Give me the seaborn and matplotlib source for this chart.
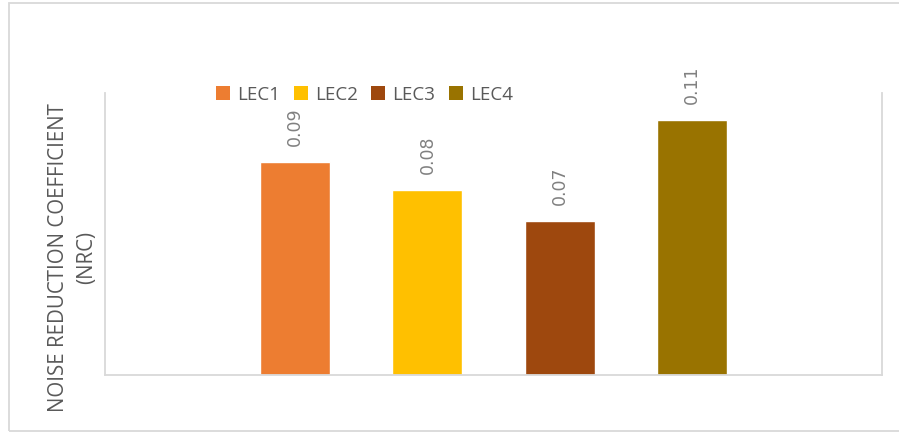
import matplotlib
matplotlib.use("Agg")
import matplotlib.pyplot as plt
from matplotlib.patches import Rectangle, Patch
import seaborn as sns
import pandas as pd

categories = ["LEC1", "LEC2", "LEC3", "LEC4"]
nrc_values = [0.0906, 0.0787, 0.0656, 0.1085]
value_labels = ["0.09", "0.08", "0.07", "0.11"]
colors = ["#ED7D31", "#FFC000", "#9E480E", "#997300"]
ylabel_text = "NOISE REDUCTION COEFFICIENT\n(NRC)"

sns.set_theme(style="white")
plt.rcParams["font.family"] = ["Open Sans", "DejaVu Sans"]

df = pd.DataFrame({"Sample": categories, "NRC": nrc_values})

fig = plt.figure(figsize=(8.99, 4.32), dpi=100)
ax = fig.add_axes([105/899, 1-375/432, (882-105)/899, (375-93)/432])

sns.barplot(data=df, x="Sample", y="NRC", hue="Sample", palette=colors,
            width=70/132, legend=False, ax=ax, saturation=1)

ax.set_xlim(-190/132, 3 + 190/132)
ax.set_ylim(0, 0.12)
ax.set_xticks([])
ax.set_yticks([])
ax.set_xlabel("")
ax.set_ylabel("")
for s in ["left", "right", "bottom"]:
    ax.spines[s].set_visible(True)
    ax.spines[s].set_color("#d9d9d9")
    ax.spines[s].set_linewidth(1.3)
ax.spines["top"].set_visible(False)

for i, (v, lab) in enumerate(zip(nrc_values, value_labels)):
    ax.annotate(lab, xy=(i, v), xytext=(0, 11.5), textcoords="offset points",
                rotation=90, ha="center", va="bottom", color="#808080",
                fontsize=12.5, family=["DejaVu Sans"])

handles = [Patch(facecolor=c, edgecolor="none") for c in colors]
fig.legend(handles, categories, loc="center", bbox_to_anchor=(364.5/899, 1-94.5/432),
           ncol=4, frameon=False, fontsize=13.5, handlelength=0.75, handleheight=0.75,
           handletextpad=0.4, columnspacing=0.7, labelcolor="#595959", borderpad=0)

fig.text(73/899, 1-258/432, ylabel_text, rotation=90, ha="center", va="center",
         multialignment="center", fontsize=14.8, color="#595959", linespacing=1.45)

fig.patches.append(Rectangle((9/899, 1-431/432), 1.0, 428/432, transform=fig.transFigure,
                             fill=False, edgecolor="#d9d9d9", linewidth=1.3))

fig.savefig("out.png", dpi=100, facecolor="white")
